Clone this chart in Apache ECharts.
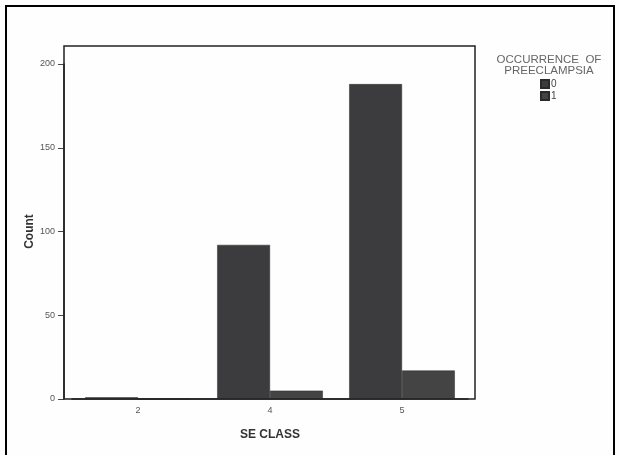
<!DOCTYPE html>
<html><head><meta charset="utf-8">
<script src="https://cdn.jsdelivr.net/npm/echarts@6/dist/echarts.min.js"></script>
<style>html,body{margin:0;padding:0;background:#fff}#c{width:619px;height:455px}</style>
</head><body><div id="c"></div>
<script>
const categories = ['2', '4', '5'];
const seriesNames = ['0', '1'];
const occurrence0 = [1, 92, 188];
const occurrence1 = [0, 5, 17];
const yTicks = [0, 50, 100, 150, 200];

const chart = echarts.init(document.getElementById('c'), null, {renderer: 'canvas'});
chart.setOption({
  backgroundColor: '#fefefe',
  animation: false,
  title: {
    text: 'OCCURRENCE  OF\nPREECLAMPSIA',
    left: 544, top: 49, textAlign: 'center',
    textStyle: {fontFamily: 'Liberation Sans', fontSize: 11.5, fontWeight: 'normal', color: '#666', lineHeight: 11}
  },
  legend: {
    orient: 'vertical', left: 535, top: 74, itemWidth: 8, itemHeight: 8, itemGap: 2,
    icon: 'rect', data: seriesNames,
    textStyle: {fontFamily: 'Liberation Sans', fontSize: 10, color: '#444', padding: [0, 0, 0, -3]}
  },
  grid: {left: 72, right: 151, top: 64, bottom: 56},
  xAxis: {
    type: 'category', data: categories,
    name: 'SE CLASS', nameLocation: 'middle', nameGap: 30,
    nameTextStyle: {fontFamily: 'Liberation Sans', fontSize: 12, fontWeight: 'bold', color: '#333'},
    axisLine: {lineStyle: {color: '#222', width: 1.5}},
    axisTick: {alignWithLabel: true, length: 6, lineStyle: {color: '#222'}},
    axisLabel: {fontFamily: 'Liberation Sans', fontSize: 9, color: '#555', margin: 7}
  },
  yAxis: {
    type: 'value', min: 0, max: 200, interval: 50, offset: 8,
    name: 'Count', nameLocation: 'middle', nameGap: 28, nameMoveOverlap: false,
    nameTextStyle: {fontFamily: 'Liberation Sans', fontSize: 12, fontWeight: 'bold', color: '#333'},
    axisLine: {show: true, lineStyle: {color: '#222', width: 1.5}},
    axisTick: {show: true, length: 6, lineStyle: {color: '#444'}},
    axisLabel: {fontFamily: 'Liberation Sans', fontSize: 9, color: '#555', margin: 9,
      formatter: v => yTicks.includes(v) ? String(v) : ''},
    splitLine: {show: false}
  },
  series: [
    {name: seriesNames[0], type: 'bar', data: occurrence0, barGap: '0%', barCategoryGap: '20%',
     itemStyle: {color: '#3c3c3e', borderColor: '#2a2a2a', borderWidth: 0.5}},
    {name: seriesNames[1], type: 'bar', data: occurrence1,
     itemStyle: {color: '#444444', borderColor: '#2a2a2a', borderWidth: 0.5}}
  ],
  graphic: [
    {type: 'rect', shape: {x: 64, y: 46, width: 411, height: 353}, silent: true, z: 100,
     style: {fill: null, stroke: '#222', lineWidth: 1.5}},
    {type: 'rect', shape: {x: 6, y: 6, width: 608, height: 460}, silent: true, z: 100,
     style: {fill: null, stroke: '#000', lineWidth: 2}}
  ]
});
</script></body></html>
